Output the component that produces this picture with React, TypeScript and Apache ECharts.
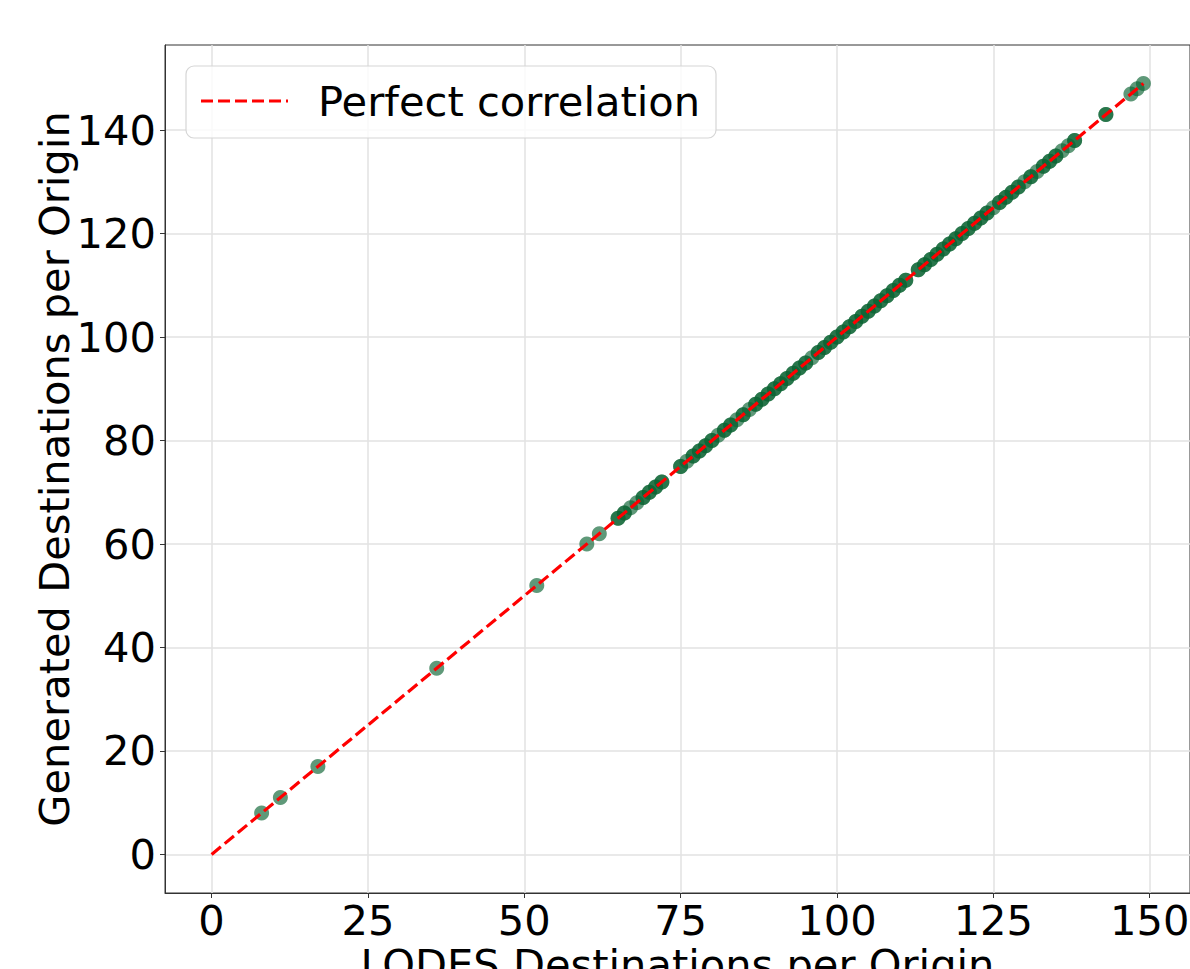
import React, { useEffect, useRef } from "react";
import * as echarts from "echarts";

const lodesValues = [
  8, 11, 17, 36, 52, 60, 62,
  65, 65, 66, 66, 67, 68, 69, 69, 70, 70, 71, 71, 72, 72,
  75, 75, 76, 77, 77, 78, 78, 79, 79, 80, 80, 81, 82, 82, 83, 83, 84, 85, 85, 86,
  87, 87, 88, 88, 89, 89, 90, 90, 91, 91, 92, 92, 93, 93, 94, 94, 95, 95, 96,
  97, 97, 98, 98, 99, 99, 100, 100, 101, 101, 102, 102, 103, 103, 104, 104,
  105, 105, 106, 106, 107, 107, 108, 108, 109, 109, 110, 110, 111, 111,
  113, 113, 114, 114, 115, 115, 116, 116, 117, 117, 118, 118, 119, 119, 120, 120,
  121, 121, 122, 122, 123, 123, 124, 124, 125, 126, 126, 127, 127, 128, 128,
  129, 129, 130, 131, 131, 132, 133, 133, 134, 134, 135, 135, 136, 137, 138, 138,
  143, 143, 147, 148, 149,
];

const generatedValues = [
  8, 11, 17, 36, 52, 60, 62,
  65, 65, 66, 66, 67, 68, 69, 69, 70, 70, 71, 71, 72, 72,
  75, 75, 76, 77, 77, 78, 78, 79, 79, 80, 80, 81, 82, 82, 83, 83, 84, 85, 85, 86,
  87, 87, 88, 88, 89, 89, 90, 90, 91, 91, 92, 92, 93, 93, 94, 94, 95, 95, 96,
  97, 97, 98, 98, 99, 99, 100, 100, 101, 101, 102, 102, 103, 103, 104, 104,
  105, 105, 106, 106, 107, 107, 108, 108, 109, 109, 110, 110, 111, 111,
  113, 113, 114, 114, 115, 115, 116, 116, 117, 117, 118, 118, 119, 119, 120, 120,
  121, 121, 122, 122, 123, 123, 124, 124, 125, 126, 126, 127, 127, 128, 128,
  129, 129, 130, 131, 131, 132, 133, 133, 134, 134, 135, 135, 136, 137, 138, 138,
  143, 143, 147, 148, 149,
];

const perfectLine = [
  [0, 0],
  [149, 149],
];

const xTicks = [0, 25, 50, 75, 100, 125, 150];
const yTicks = [0, 20, 40, 60, 80, 100, 120, 140];

const axisMin = -7.45;
const axisMax = 156.45;

const FONT = "DejaVu Sans";
const FS = 41.6;

export default function App() {
  const ref = useRef<HTMLDivElement>(null);

  useEffect(() => {
    if (!ref.current) return;
    const chart = echarts.init(ref.current, undefined, { renderer: "svg" });
    const points = lodesValues.map((x, i) => [x, generatedValues[i]]);

    const axisCommon = {
      type: "value",
      min: axisMin,
      max: axisMax,
      nameLocation: "middle",
      nameMoveOverlap: false,
      nameTextStyle: { fontFamily: FONT, fontSize: FS, color: "#000" },
      axisLine: { show: true, onZero: false, lineStyle: { color: "#333", width: 1 } },
      axisTick: { show: true, length: 5, lineStyle: { color: "#333", width: 1 } },
      splitLine: { show: true, lineStyle: { color: "#e2e2e2", width: 1.5 } },
    };

    chart.setOption({
      animation: false,
      backgroundColor: "#fff",
      grid: {
        left: 165,
        top: 45,
        width: 1025,
        height: 848,
        show: true,
        borderColor: "#333",
        borderWidth: 1,
        backgroundColor: "transparent",
        containLabel: false,
        outerBoundsMode: "none",
      },
      xAxis: {
        ...axisCommon,
        name: "LODES Destinations per Origin",
        nameGap: 50,
        axisTick: { ...axisCommon.axisTick, customValues: xTicks },
        axisLabel: {
          customValues: xTicks,
          fontFamily: FONT,
          fontSize: FS,
          lineHeight: 34,
          color: "#000",
          margin: 10,
        },
      },
      yAxis: {
        ...axisCommon,
        name: "Generated Destinations per Origin",
        nameGap: 90,
        axisTick: { ...axisCommon.axisTick, customValues: yTicks },
        axisLabel: {
          customValues: yTicks,
          fontFamily: FONT,
          fontSize: FS,
          color: "#000",
          margin: 9,
        },
      },
      series: [
        {
          type: "scatter",
          data: points,
          symbol: "circle",
          symbolSize: 15,
          itemStyle: { color: "#0c6434", opacity: 0.66 },
          z: 2,
        },
        {
          type: "line",
          data: perfectLine,
          symbol: "none",
          lineStyle: { color: "#ff0000", width: 3.2, type: [12, 5] },
          z: 3,
        },
      ],
      graphic: [
        {
          type: "rect",
          shape: { x: 186, y: 66, width: 530, height: 72, r: 8 },
          style: { fill: "rgba(255,255,255,0.8)", stroke: "#d6d6d6", lineWidth: 1.2 },
          z: 10,
        },
        {
          type: "line",
          shape: { x1: 201, y1: 101, x2: 288, y2: 101 },
          style: { stroke: "#ff0000", lineWidth: 3.2, lineDash: [12, 5] },
          z: 11,
        },
        {
          type: "text",
          x: 318,
          y: 101,
          style: {
            text: "Perfect correlation",
            fontFamily: FONT,
            fontSize: FS,
            fill: "#000",
            verticalAlign: "middle",
            textAlign: "left",
          },
          z: 11,
        },
      ],
    });

    return () => chart.dispose();
  }, []);

  return (
    <div
      ref={ref}
      style={{ position: "absolute", left: 0, top: 0, width: 1190, height: 969 }}
    />
  );
}
